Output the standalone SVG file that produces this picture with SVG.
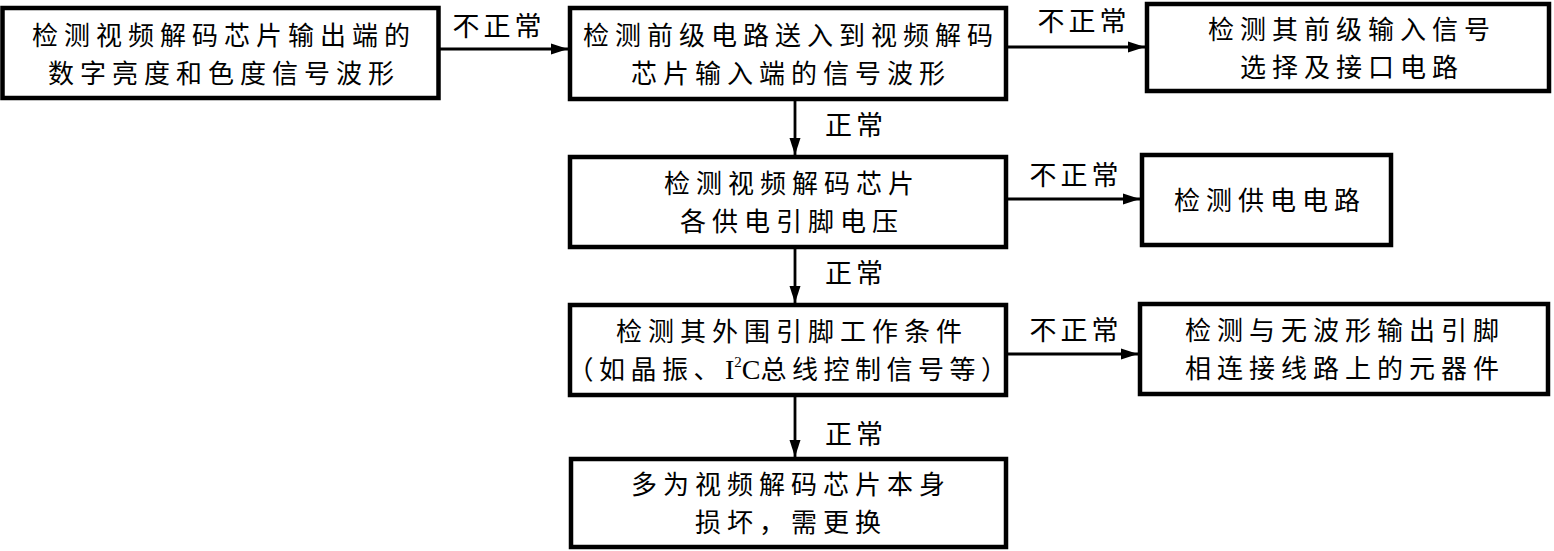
<svg xmlns="http://www.w3.org/2000/svg" width="1554" height="551" viewBox="0 0 1554 551">
<defs>
<style>
.box{fill:#fff;stroke:#000;stroke-width:4.5}
.t{font-family:"Noto Sans CJK SC","Noto Sans",sans-serif;font-size:26px;letter-spacing:6px;text-anchor:middle;fill:#000}
.l{font-family:"Noto Sans CJK SC","Noto Sans",sans-serif;font-size:27px;letter-spacing:4px;text-anchor:middle;fill:#000}
.c{fill:none;stroke:#000;stroke-width:2.8}
</style>
<marker id="ah" markerUnits="userSpaceOnUse" markerWidth="18" markerHeight="12" refX="17" refY="6" orient="auto">
<path d="M0,0.5 L17,6 L0,11.5 z" fill="#000"/>
</marker>
</defs>
<rect width="1554" height="551" fill="#fff"/>
<g id="n1"><rect class="box" x="2.5" y="8" width="436" height="90"/>
<text class="t"><tspan x="224" y="45">检测视频解码芯片输出端的</tspan><tspan x="224" y="83">数字亮度和色度信号波形</tspan></text></g>
<g id="n2"><rect class="box" x="570" y="8" width="436" height="91"/>
<text class="t"><tspan x="791" y="45">检测前级电路送入到视频解码</tspan><tspan x="791" y="83">芯片输入端的信号波形</tspan></text></g>
<g id="n3"><rect class="box" x="1147" y="4" width="402" height="87"/>
<text class="t"><tspan x="1352" y="39">检测其前级输入信号</tspan><tspan x="1352" y="77">选择及接口电路</tspan></text></g>
<g id="n4"><rect class="box" x="570" y="157" width="436" height="90"/>
<text class="t"><tspan x="792" y="193">检测视频解码芯片</tspan><tspan x="792" y="231">各供电引脚电压</tspan></text></g>
<g id="n5"><rect class="box" x="1142" y="155" width="249" height="90"/>
<text class="t" x="1270" y="210">检测供电电路</text></g>
<g id="n6"><rect class="box" x="570" y="305" width="436" height="90"/>
<text class="t"><tspan x="792" y="341">检测其外围引脚工作条件</tspan><tspan x="790" y="379" style="letter-spacing:5.5px">（如晶振、<tspan style="font-family:'Liberation Serif',serif;font-size:28px;letter-spacing:0">I<tspan font-size="15" dy="-12">2</tspan><tspan dy="12">C</tspan></tspan>总线控制信号等）</tspan></text></g>
<g id="n7"><rect class="box" x="1140" y="304" width="408" height="90"/>
<text class="t"><tspan x="1345" y="340">检测与无波形输出引脚</tspan><tspan x="1345" y="378">相连接线路上的元器件</tspan></text></g>
<g id="n8"><rect class="box" x="571" y="459" width="435" height="88"/>
<text class="t"><tspan x="791" y="494">多为视频解码芯片本身</tspan><tspan x="791" y="532">损坏，需更换</tspan></text></g>
<g id="connectors">
<line class="c" x1="440" y1="49" x2="568" y2="49" marker-end="url(#ah)"/>
<line class="c" x1="1008" y1="47" x2="1145" y2="47" marker-end="url(#ah)"/>
<line class="c" x1="1008" y1="199" x2="1140" y2="199" marker-end="url(#ah)"/>
<line class="c" x1="1008" y1="354" x2="1138" y2="354" marker-end="url(#ah)"/>
<line class="c" x1="795" y1="101" x2="795" y2="155" marker-end="url(#ah)"/>
<line class="c" x1="795" y1="249" x2="795" y2="303" marker-end="url(#ah)"/>
<line class="c" x1="795" y1="397" x2="795" y2="457" marker-end="url(#ah)"/>
<text class="l" x="499" y="36">不正常</text>
<text class="l" x="1084" y="31">不正常</text>
<text class="l" x="1076" y="185">不正常</text>
<text class="l" x="1076" y="340">不正常</text>
<text class="l" x="856" y="135">正常</text>
<text class="l" x="856" y="283">正常</text>
<text class="l" x="856" y="444">正常</text>
</g>
</svg>
